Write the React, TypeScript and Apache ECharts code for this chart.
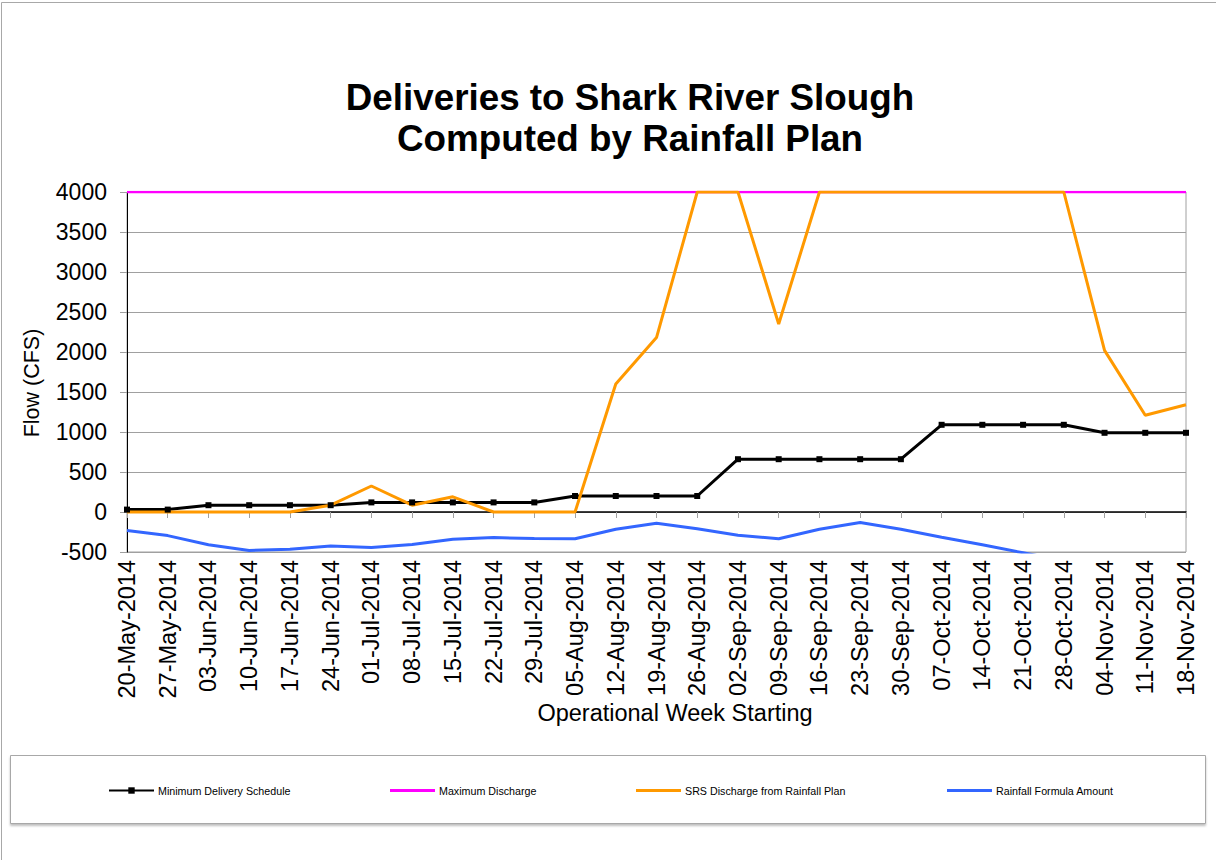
import React, { useEffect, useRef } from "react";
import * as echarts from "echarts";

const categories = [
  "20-May-2014", "27-May-2014", "03-Jun-2014", "10-Jun-2014", "17-Jun-2014",
  "24-Jun-2014", "01-Jul-2014", "08-Jul-2014", "15-Jul-2014", "22-Jul-2014",
  "29-Jul-2014", "05-Aug-2014", "12-Aug-2014", "19-Aug-2014", "26-Aug-2014",
  "02-Sep-2014", "09-Sep-2014", "16-Sep-2014", "23-Sep-2014", "30-Sep-2014",
  "07-Oct-2014", "14-Oct-2014", "21-Oct-2014", "28-Oct-2014", "04-Nov-2014",
  "11-Nov-2014", "18-Nov-2014",
];

const minDelivery = [
  30, 30, 85, 85, 85, 85, 120, 120, 120, 120, 120, 200, 200, 200, 200,
  660, 660, 660, 660, 660, 1090, 1090, 1090, 1090, 990, 990, 990,
];

const maxDischarge = [
  4000, 4000, 4000, 4000, 4000, 4000, 4000, 4000, 4000, 4000, 4000, 4000, 4000, 4000,
  4000, 4000, 4000, 4000, 4000, 4000, 4000, 4000, 4000, 4000, 4000, 4000, 4000,
];

const srsDischarge = [
  0, 0, 0, 0, 0, 85, 325, 85, 190, 0, 0, 0, 1600, 2180, 4000,
  4000, 2350, 4000, 4000, 4000, 4000, 4000, 4000, 4000, 2020, 1210, 1340,
];

const rainfallFormula = [
  -230, -295, -410, -480, -465, -425, -445, -405, -340, -320, -330, -335, -215, -140, -210,
  -290, -335, -215, -130, -215, -315, -410, -510, -610, -700, -760, -800,
];

const seriesNames = [
  "Minimum Delivery Schedule",
  "Maximum Discharge",
  "SRS Discharge from Rainfall Plan",
  "Rainfall Formula Amount",
];

const FONT = "'Liberation Sans', Arial, Helvetica, sans-serif";

export default function App() {
  const ref = useRef<HTMLDivElement>(null);

  useEffect(() => {
    document.body.style.margin = "0";
    document.body.style.overflow = "hidden";
    if (!ref.current) return;
    const chart = echarts.init(ref.current, null, { renderer: "svg" });

    const legendLefts = [108, 390, 636, 947];
    const legends = seriesNames.map((n, i) => ({
      data: i === 0 ? [n] : [{ name: n, icon: "rect" }],
      left: legendLefts[i],
      top: 785,
      itemWidth: 45,
      itemHeight: i === 0 ? 8 : 3,
      itemGap: 0,
      padding: 0,
      selectedMode: false,
      textStyle: { fontSize: 10.7, color: "#000", fontFamily: FONT, padding: [0, 0, 0, -1] },
    }));

    chart.setOption({
      animation: false,
      backgroundColor: "#ffffff",
      textStyle: { fontFamily: FONT },
      title: {
        text: "Deliveries to Shark River Slough\nComputed by Rainfall Plan",
        left: 625,
        top: 72,
        textAlign: "center",
        textStyle: {
          fontSize: 36.8,
          fontWeight: "bold",
          color: "#000",
          lineHeight: 41,
          fontFamily: FONT,
        },
      },
      grid: {
        left: 127,
        right: 30,
        top: 192,
        bottom: 308,
        show: true,
        borderColor: "#a0a0a0",
        borderWidth: 1,
        backgroundColor: "transparent",
      },
      xAxis: {
        type: "category",
        data: categories,
        boundaryGap: false,
        axisLine: { show: true, lineStyle: { color: "#000", width: 1.5 } },
        axisTick: { show: true, length: 6, interval: 0, lineStyle: { color: "#a0a0a0" } },
        axisLabel: {
          rotate: 90,
          interval: 0,
          fontSize: 23.5,
          color: "#000",
          margin: 8,
          fontFamily: FONT,
        },
        splitLine: { show: false },
      },
      yAxis: {
        type: "value",
        min: -500,
        max: 4000,
        interval: 500,
        axisLine: { show: true, lineStyle: { color: "#000", width: 1 } },
        axisTick: { show: true, length: 7, lineStyle: { color: "#a0a0a0" } },
        axisLabel: {
          fontSize: 23,
          color: "#000",
          margin: 20,
          fontFamily: FONT,
          formatter: (v: number) => String(v),
        },
        splitLine: { show: true, lineStyle: { color: "#a0a0a0", width: 1 } },
      },
      legend: legends,
      graphic: [
        {
          type: "rect",
          shape: { x: 1.5, y: 2.5, width: 1240, height: 900 },
          style: { fill: "none", stroke: "#a8a8a8", lineWidth: 1 },
          silent: true,
        },
        {
          type: "rect",
          shape: { x: 10.5, y: 755.5, width: 1195, height: 68 },
          style: {
            fill: "#fff",
            stroke: "#a8a8a8",
            lineWidth: 1,
            shadowBlur: 2,
            shadowOffsetY: 2,
            shadowColor: "rgba(0,0,0,0.25)",
          },
          z: -1,
          silent: true,
        },
        {
          type: "text",
          x: 32,
          y: 383,
          rotation: Math.PI / 2,
          style: {
            text: "Flow (CFS)",
            fontSize: 21.5,
            fill: "#000",
            fontFamily: FONT,
            textAlign: "center",
            textVerticalAlign: "middle",
          },
          silent: true,
        },
        {
          type: "text",
          x: 675,
          y: 713,
          style: {
            text: "Operational Week Starting",
            fontSize: 23.5,
            fill: "#000",
            fontFamily: FONT,
            textAlign: "center",
            textVerticalAlign: "middle",
          },
          silent: true,
        },
      ],
      series: [
        {
          name: seriesNames[0],
          type: "line",
          data: minDelivery,
          symbol: "rect",
          symbolSize: 6,
          showSymbol: true,
          itemStyle: { color: "#000" },
          lineStyle: { color: "#000", width: 3 },
        },
        {
          name: seriesNames[1],
          type: "line",
          data: maxDischarge,
          symbol: "none",
          itemStyle: { color: "#ff00ff" },
          lineStyle: { color: "#ff00ff", width: 2.5 },
        },
        {
          name: seriesNames[2],
          type: "line",
          data: srsDischarge,
          symbol: "none",
          itemStyle: { color: "#ff9900" },
          lineStyle: { color: "#ff9900", width: 3 },
        },
        {
          name: seriesNames[3],
          type: "line",
          data: rainfallFormula,
          symbol: "none",
          clip: true,
          itemStyle: { color: "#3366ff" },
          lineStyle: { color: "#3366ff", width: 3 },
        },
      ],
    });

    return () => {
      chart.dispose();
    };
  }, []);

  return <div ref={ref} style={{ width: 1216, height: 860 }} />;
}
